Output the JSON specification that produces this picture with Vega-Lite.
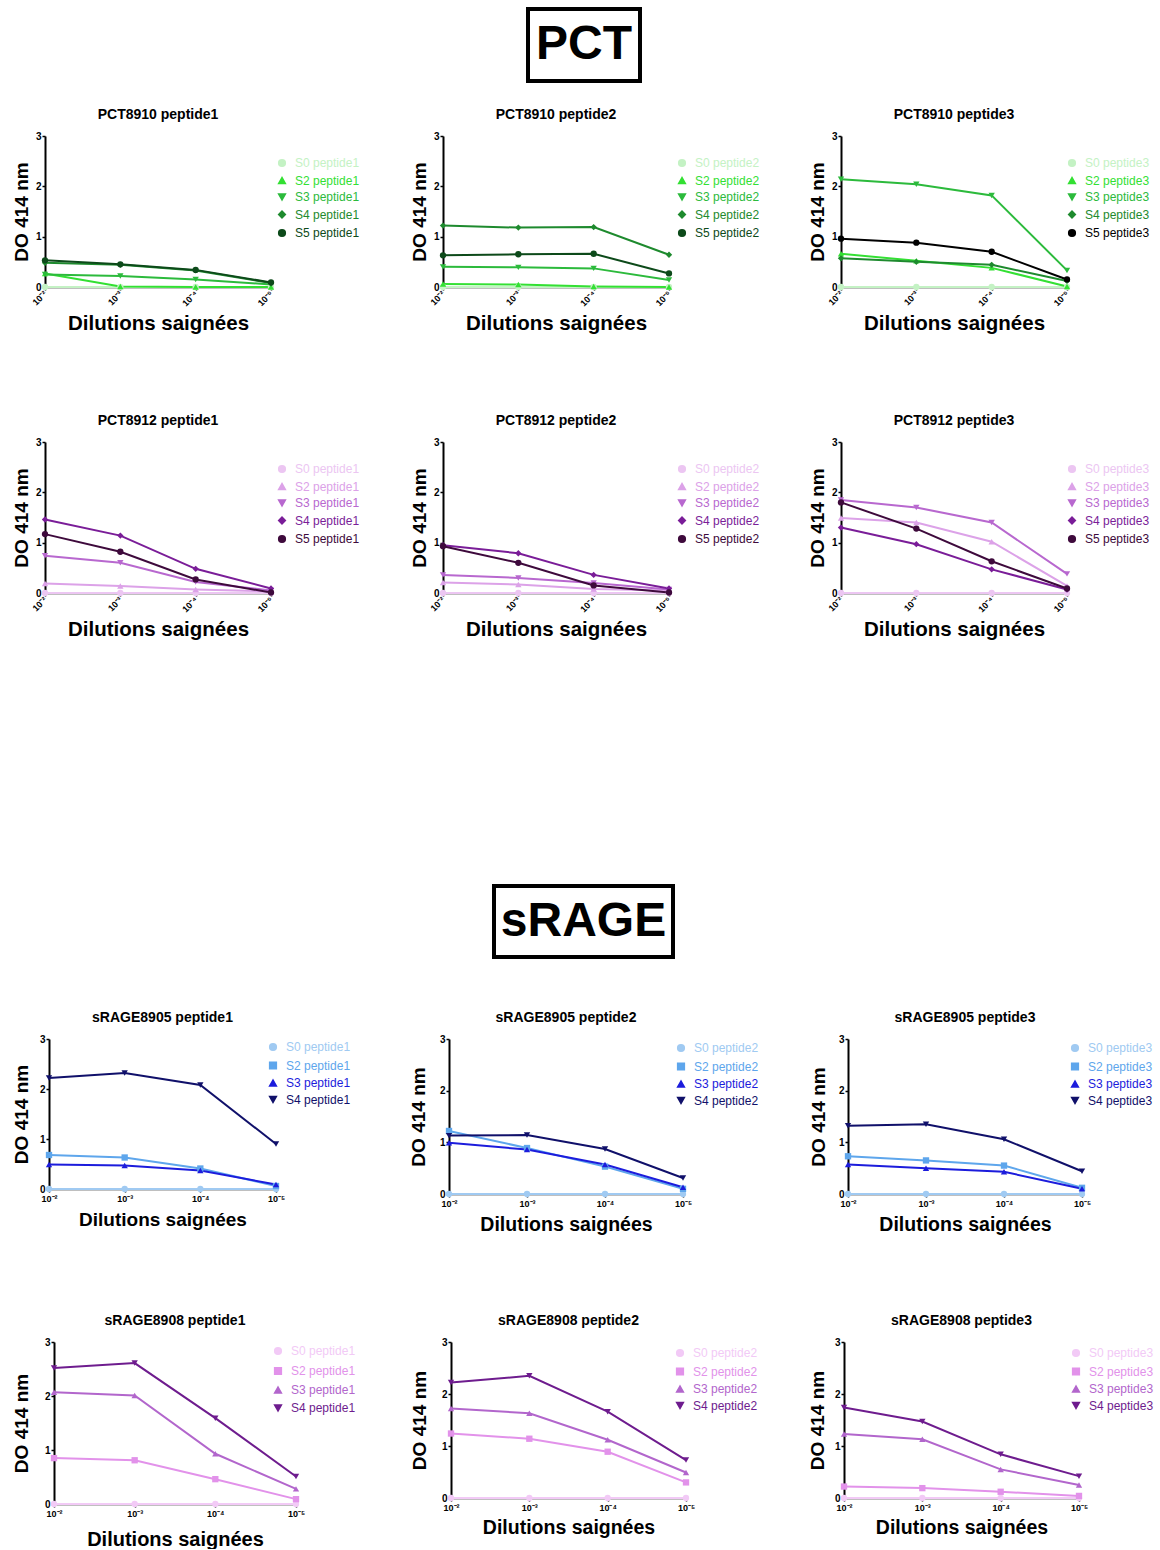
{
"$schema":"https://vega.github.io/schema/vega-lite/v6.json",
"padding":{"left":11,"top":7,"right":5,"bottom":0},
"background":"white",
"datasets":{"d":[
{"p":"PCT8910 peptide1","s":"S0 peptide1","x":"10⁻²","v":0},{"p":"PCT8910 peptide1","s":"S0 peptide1","x":"10⁻³","v":0},{"p":"PCT8910 peptide1","s":"S0 peptide1","x":"10⁻⁴","v":0},{"p":"PCT8910 peptide1","s":"S0 peptide1","x":"10⁻⁵","v":0},
{"p":"PCT8910 peptide1","s":"S2 peptide1","x":"10⁻²","v":0.27},{"p":"PCT8910 peptide1","s":"S2 peptide1","x":"10⁻³","v":0.01},{"p":"PCT8910 peptide1","s":"S2 peptide1","x":"10⁻⁴","v":0.0},{"p":"PCT8910 peptide1","s":"S2 peptide1","x":"10⁻⁵","v":0.0},
{"p":"PCT8910 peptide1","s":"S3 peptide1","x":"10⁻²","v":0.25},{"p":"PCT8910 peptide1","s":"S3 peptide1","x":"10⁻³","v":0.22},{"p":"PCT8910 peptide1","s":"S3 peptide1","x":"10⁻⁴","v":0.15},{"p":"PCT8910 peptide1","s":"S3 peptide1","x":"10⁻⁵","v":0.05},
{"p":"PCT8910 peptide1","s":"S4 peptide1","x":"10⁻²","v":0.48},{"p":"PCT8910 peptide1","s":"S4 peptide1","x":"10⁻³","v":0.44},{"p":"PCT8910 peptide1","s":"S4 peptide1","x":"10⁻⁴","v":0.33},{"p":"PCT8910 peptide1","s":"S4 peptide1","x":"10⁻⁵","v":0.08},
{"p":"PCT8910 peptide1","s":"S5 peptide1","x":"10⁻²","v":0.53},{"p":"PCT8910 peptide1","s":"S5 peptide1","x":"10⁻³","v":0.45},{"p":"PCT8910 peptide1","s":"S5 peptide1","x":"10⁻⁴","v":0.34},{"p":"PCT8910 peptide1","s":"S5 peptide1","x":"10⁻⁵","v":0.09},
{"p":"PCT8910 peptide2","s":"S0 peptide2","x":"10⁻²","v":0},{"p":"PCT8910 peptide2","s":"S0 peptide2","x":"10⁻³","v":0},{"p":"PCT8910 peptide2","s":"S0 peptide2","x":"10⁻⁴","v":0},{"p":"PCT8910 peptide2","s":"S0 peptide2","x":"10⁻⁵","v":0},
{"p":"PCT8910 peptide2","s":"S2 peptide2","x":"10⁻²","v":0.06},{"p":"PCT8910 peptide2","s":"S2 peptide2","x":"10⁻³","v":0.05},{"p":"PCT8910 peptide2","s":"S2 peptide2","x":"10⁻⁴","v":0.01},{"p":"PCT8910 peptide2","s":"S2 peptide2","x":"10⁻⁵","v":0.0},
{"p":"PCT8910 peptide2","s":"S3 peptide2","x":"10⁻²","v":0.40},{"p":"PCT8910 peptide2","s":"S3 peptide2","x":"10⁻³","v":0.39},{"p":"PCT8910 peptide2","s":"S3 peptide2","x":"10⁻⁴","v":0.37},{"p":"PCT8910 peptide2","s":"S3 peptide2","x":"10⁻⁵","v":0.14},
{"p":"PCT8910 peptide2","s":"S4 peptide2","x":"10⁻²","v":1.22},{"p":"PCT8910 peptide2","s":"S4 peptide2","x":"10⁻³","v":1.18},{"p":"PCT8910 peptide2","s":"S4 peptide2","x":"10⁻⁴","v":1.19},{"p":"PCT8910 peptide2","s":"S4 peptide2","x":"10⁻⁵","v":0.64},
{"p":"PCT8910 peptide2","s":"S5 peptide2","x":"10⁻²","v":0.63},{"p":"PCT8910 peptide2","s":"S5 peptide2","x":"10⁻³","v":0.65},{"p":"PCT8910 peptide2","s":"S5 peptide2","x":"10⁻⁴","v":0.66},{"p":"PCT8910 peptide2","s":"S5 peptide2","x":"10⁻⁵","v":0.27},
{"p":"PCT8910 peptide3","s":"S0 peptide3","x":"10⁻²","v":0},{"p":"PCT8910 peptide3","s":"S0 peptide3","x":"10⁻³","v":0},{"p":"PCT8910 peptide3","s":"S0 peptide3","x":"10⁻⁴","v":0},{"p":"PCT8910 peptide3","s":"S0 peptide3","x":"10⁻⁵","v":0},
{"p":"PCT8910 peptide3","s":"S2 peptide3","x":"10⁻²","v":0.66},{"p":"PCT8910 peptide3","s":"S2 peptide3","x":"10⁻³","v":0.52},{"p":"PCT8910 peptide3","s":"S2 peptide3","x":"10⁻⁴","v":0.38},{"p":"PCT8910 peptide3","s":"S2 peptide3","x":"10⁻⁵","v":0.01},
{"p":"PCT8910 peptide3","s":"S3 peptide3","x":"10⁻²","v":2.14},{"p":"PCT8910 peptide3","s":"S3 peptide3","x":"10⁻³","v":2.04},{"p":"PCT8910 peptide3","s":"S3 peptide3","x":"10⁻⁴","v":1.82},{"p":"PCT8910 peptide3","s":"S3 peptide3","x":"10⁻⁵","v":0.33},
{"p":"PCT8910 peptide3","s":"S4 peptide3","x":"10⁻²","v":0.57},{"p":"PCT8910 peptide3","s":"S4 peptide3","x":"10⁻³","v":0.50},{"p":"PCT8910 peptide3","s":"S4 peptide3","x":"10⁻⁴","v":0.44},{"p":"PCT8910 peptide3","s":"S4 peptide3","x":"10⁻⁵","v":0.12},
{"p":"PCT8910 peptide3","s":"S5 peptide3","x":"10⁻²","v":0.96},{"p":"PCT8910 peptide3","s":"S5 peptide3","x":"10⁻³","v":0.88},{"p":"PCT8910 peptide3","s":"S5 peptide3","x":"10⁻⁴","v":0.70},{"p":"PCT8910 peptide3","s":"S5 peptide3","x":"10⁻⁵","v":0.15},
{"p":"PCT8912 peptide1","s":"S0 peptide1","x":"10⁻²","v":0},{"p":"PCT8912 peptide1","s":"S0 peptide1","x":"10⁻³","v":0},{"p":"PCT8912 peptide1","s":"S0 peptide1","x":"10⁻⁴","v":0},{"p":"PCT8912 peptide1","s":"S0 peptide1","x":"10⁻⁵","v":0},
{"p":"PCT8912 peptide1","s":"S2 peptide1","x":"10⁻²","v":0.19},{"p":"PCT8912 peptide1","s":"S2 peptide1","x":"10⁻³","v":0.14},{"p":"PCT8912 peptide1","s":"S2 peptide1","x":"10⁻⁴","v":0.07},{"p":"PCT8912 peptide1","s":"S2 peptide1","x":"10⁻⁵","v":0.03},
{"p":"PCT8912 peptide1","s":"S3 peptide1","x":"10⁻²","v":0.74},{"p":"PCT8912 peptide1","s":"S3 peptide1","x":"10⁻³","v":0.60},{"p":"PCT8912 peptide1","s":"S3 peptide1","x":"10⁻⁴","v":0.22},{"p":"PCT8912 peptide1","s":"S3 peptide1","x":"10⁻⁵","v":0.05},
{"p":"PCT8912 peptide1","s":"S4 peptide1","x":"10⁻²","v":1.46},{"p":"PCT8912 peptide1","s":"S4 peptide1","x":"10⁻³","v":1.14},{"p":"PCT8912 peptide1","s":"S4 peptide1","x":"10⁻⁴","v":0.48},{"p":"PCT8912 peptide1","s":"S4 peptide1","x":"10⁻⁵","v":0.09},
{"p":"PCT8912 peptide1","s":"S5 peptide1","x":"10⁻²","v":1.17},{"p":"PCT8912 peptide1","s":"S5 peptide1","x":"10⁻³","v":0.82},{"p":"PCT8912 peptide1","s":"S5 peptide1","x":"10⁻⁴","v":0.27},{"p":"PCT8912 peptide1","s":"S5 peptide1","x":"10⁻⁵","v":0.01},
{"p":"PCT8912 peptide2","s":"S0 peptide2","x":"10⁻²","v":0},{"p":"PCT8912 peptide2","s":"S0 peptide2","x":"10⁻³","v":0},{"p":"PCT8912 peptide2","s":"S0 peptide2","x":"10⁻⁴","v":0},{"p":"PCT8912 peptide2","s":"S0 peptide2","x":"10⁻⁵","v":0},
{"p":"PCT8912 peptide2","s":"S2 peptide2","x":"10⁻²","v":0.21},{"p":"PCT8912 peptide2","s":"S2 peptide2","x":"10⁻³","v":0.17},{"p":"PCT8912 peptide2","s":"S2 peptide2","x":"10⁻⁴","v":0.08},{"p":"PCT8912 peptide2","s":"S2 peptide2","x":"10⁻⁵","v":0.05},
{"p":"PCT8912 peptide2","s":"S3 peptide2","x":"10⁻²","v":0.36},{"p":"PCT8912 peptide2","s":"S3 peptide2","x":"10⁻³","v":0.30},{"p":"PCT8912 peptide2","s":"S3 peptide2","x":"10⁻⁴","v":0.20},{"p":"PCT8912 peptide2","s":"S3 peptide2","x":"10⁻⁵","v":0.07},
{"p":"PCT8912 peptide2","s":"S4 peptide2","x":"10⁻²","v":0.95},{"p":"PCT8912 peptide2","s":"S4 peptide2","x":"10⁻³","v":0.79},{"p":"PCT8912 peptide2","s":"S4 peptide2","x":"10⁻⁴","v":0.36},{"p":"PCT8912 peptide2","s":"S4 peptide2","x":"10⁻⁵","v":0.09},
{"p":"PCT8912 peptide2","s":"S5 peptide2","x":"10⁻²","v":0.93},{"p":"PCT8912 peptide2","s":"S5 peptide2","x":"10⁻³","v":0.60},{"p":"PCT8912 peptide2","s":"S5 peptide2","x":"10⁻⁴","v":0.15},{"p":"PCT8912 peptide2","s":"S5 peptide2","x":"10⁻⁵","v":0.01},
{"p":"PCT8912 peptide3","s":"S0 peptide3","x":"10⁻²","v":0},{"p":"PCT8912 peptide3","s":"S0 peptide3","x":"10⁻³","v":0},{"p":"PCT8912 peptide3","s":"S0 peptide3","x":"10⁻⁴","v":0},{"p":"PCT8912 peptide3","s":"S0 peptide3","x":"10⁻⁵","v":0},
{"p":"PCT8912 peptide3","s":"S2 peptide3","x":"10⁻²","v":1.49},{"p":"PCT8912 peptide3","s":"S2 peptide3","x":"10⁻³","v":1.40},{"p":"PCT8912 peptide3","s":"S2 peptide3","x":"10⁻⁴","v":1.02},{"p":"PCT8912 peptide3","s":"S2 peptide3","x":"10⁻⁵","v":0.14},
{"p":"PCT8912 peptide3","s":"S3 peptide3","x":"10⁻²","v":1.85},{"p":"PCT8912 peptide3","s":"S3 peptide3","x":"10⁻³","v":1.70},{"p":"PCT8912 peptide3","s":"S3 peptide3","x":"10⁻⁴","v":1.40},{"p":"PCT8912 peptide3","s":"S3 peptide3","x":"10⁻⁵","v":0.38},
{"p":"PCT8912 peptide3","s":"S4 peptide3","x":"10⁻²","v":1.30},{"p":"PCT8912 peptide3","s":"S4 peptide3","x":"10⁻³","v":0.97},{"p":"PCT8912 peptide3","s":"S4 peptide3","x":"10⁻⁴","v":0.47},{"p":"PCT8912 peptide3","s":"S4 peptide3","x":"10⁻⁵","v":0.07},
{"p":"PCT8912 peptide3","s":"S5 peptide3","x":"10⁻²","v":1.80},{"p":"PCT8912 peptide3","s":"S5 peptide3","x":"10⁻³","v":1.28},{"p":"PCT8912 peptide3","s":"S5 peptide3","x":"10⁻⁴","v":0.63},{"p":"PCT8912 peptide3","s":"S5 peptide3","x":"10⁻⁵","v":0.09},
{"p":"sRAGE8905 peptide1","s":"S0 peptide1","x":"10⁻²","v":0},{"p":"sRAGE8905 peptide1","s":"S0 peptide1","x":"10⁻³","v":0},{"p":"sRAGE8905 peptide1","s":"S0 peptide1","x":"10⁻⁴","v":0},{"p":"sRAGE8905 peptide1","s":"S0 peptide1","x":"10⁻⁵","v":0},
{"p":"sRAGE8905 peptide1","s":"S2 peptide1","x":"10⁻²","v":0.68},{"p":"sRAGE8905 peptide1","s":"S2 peptide1","x":"10⁻³","v":0.63},{"p":"sRAGE8905 peptide1","s":"S2 peptide1","x":"10⁻⁴","v":0.41},{"p":"sRAGE8905 peptide1","s":"S2 peptide1","x":"10⁻⁵","v":0.06},
{"p":"sRAGE8905 peptide1","s":"S3 peptide1","x":"10⁻²","v":0.49},{"p":"sRAGE8905 peptide1","s":"S3 peptide1","x":"10⁻³","v":0.47},{"p":"sRAGE8905 peptide1","s":"S3 peptide1","x":"10⁻⁴","v":0.37},{"p":"sRAGE8905 peptide1","s":"S3 peptide1","x":"10⁻⁵","v":0.09},
{"p":"sRAGE8905 peptide1","s":"S4 peptide1","x":"10⁻²","v":2.22},{"p":"sRAGE8905 peptide1","s":"S4 peptide1","x":"10⁻³","v":2.32},{"p":"sRAGE8905 peptide1","s":"S4 peptide1","x":"10⁻⁴","v":2.08},{"p":"sRAGE8905 peptide1","s":"S4 peptide1","x":"10⁻⁵","v":0.90},
{"p":"sRAGE8905 peptide2","s":"S0 peptide2","x":"10⁻²","v":0},{"p":"sRAGE8905 peptide2","s":"S0 peptide2","x":"10⁻³","v":0},{"p":"sRAGE8905 peptide2","s":"S0 peptide2","x":"10⁻⁴","v":0},{"p":"sRAGE8905 peptide2","s":"S0 peptide2","x":"10⁻⁵","v":0},
{"p":"sRAGE8905 peptide2","s":"S2 peptide2","x":"10⁻²","v":1.22},{"p":"sRAGE8905 peptide2","s":"S2 peptide2","x":"10⁻³","v":0.89},{"p":"sRAGE8905 peptide2","s":"S2 peptide2","x":"10⁻⁴","v":0.53},{"p":"sRAGE8905 peptide2","s":"S2 peptide2","x":"10⁻⁵","v":0.10},
{"p":"sRAGE8905 peptide2","s":"S3 peptide2","x":"10⁻²","v":0.99},{"p":"sRAGE8905 peptide2","s":"S3 peptide2","x":"10⁻³","v":0.86},{"p":"sRAGE8905 peptide2","s":"S3 peptide2","x":"10⁻⁴","v":0.57},{"p":"sRAGE8905 peptide2","s":"S3 peptide2","x":"10⁻⁵","v":0.13},
{"p":"sRAGE8905 peptide2","s":"S4 peptide2","x":"10⁻²","v":1.13},{"p":"sRAGE8905 peptide2","s":"S4 peptide2","x":"10⁻³","v":1.14},{"p":"sRAGE8905 peptide2","s":"S4 peptide2","x":"10⁻⁴","v":0.87},{"p":"sRAGE8905 peptide2","s":"S4 peptide2","x":"10⁻⁵","v":0.31},
{"p":"sRAGE8905 peptide3","s":"S0 peptide3","x":"10⁻²","v":0},{"p":"sRAGE8905 peptide3","s":"S0 peptide3","x":"10⁻³","v":0},{"p":"sRAGE8905 peptide3","s":"S0 peptide3","x":"10⁻⁴","v":0},{"p":"sRAGE8905 peptide3","s":"S0 peptide3","x":"10⁻⁵","v":0},
{"p":"sRAGE8905 peptide3","s":"S2 peptide3","x":"10⁻²","v":0.73},{"p":"sRAGE8905 peptide3","s":"S2 peptide3","x":"10⁻³","v":0.65},{"p":"sRAGE8905 peptide3","s":"S2 peptide3","x":"10⁻⁴","v":0.55},{"p":"sRAGE8905 peptide3","s":"S2 peptide3","x":"10⁻⁵","v":0.12},
{"p":"sRAGE8905 peptide3","s":"S3 peptide3","x":"10⁻²","v":0.57},{"p":"sRAGE8905 peptide3","s":"S3 peptide3","x":"10⁻³","v":0.50},{"p":"sRAGE8905 peptide3","s":"S3 peptide3","x":"10⁻⁴","v":0.43},{"p":"sRAGE8905 peptide3","s":"S3 peptide3","x":"10⁻⁵","v":0.10},
{"p":"sRAGE8905 peptide3","s":"S4 peptide3","x":"10⁻²","v":1.32},{"p":"sRAGE8905 peptide3","s":"S4 peptide3","x":"10⁻³","v":1.35},{"p":"sRAGE8905 peptide3","s":"S4 peptide3","x":"10⁻⁴","v":1.06},{"p":"sRAGE8905 peptide3","s":"S4 peptide3","x":"10⁻⁵","v":0.44},
{"p":"sRAGE8908 peptide1","s":"S0 peptide1","x":"10⁻²","v":0},{"p":"sRAGE8908 peptide1","s":"S0 peptide1","x":"10⁻³","v":0},{"p":"sRAGE8908 peptide1","s":"S0 peptide1","x":"10⁻⁴","v":0},{"p":"sRAGE8908 peptide1","s":"S0 peptide1","x":"10⁻⁵","v":0},
{"p":"sRAGE8908 peptide1","s":"S2 peptide1","x":"10⁻²","v":0.85},{"p":"sRAGE8908 peptide1","s":"S2 peptide1","x":"10⁻³","v":0.81},{"p":"sRAGE8908 peptide1","s":"S2 peptide1","x":"10⁻⁴","v":0.46},{"p":"sRAGE8908 peptide1","s":"S2 peptide1","x":"10⁻⁵","v":0.09},
{"p":"sRAGE8908 peptide1","s":"S3 peptide1","x":"10⁻²","v":2.07},{"p":"sRAGE8908 peptide1","s":"S3 peptide1","x":"10⁻³","v":2.01},{"p":"sRAGE8908 peptide1","s":"S3 peptide1","x":"10⁻⁴","v":0.93},{"p":"sRAGE8908 peptide1","s":"S3 peptide1","x":"10⁻⁵","v":0.28},
{"p":"sRAGE8908 peptide1","s":"S4 peptide1","x":"10⁻²","v":2.52},{"p":"sRAGE8908 peptide1","s":"S4 peptide1","x":"10⁻³","v":2.61},{"p":"sRAGE8908 peptide1","s":"S4 peptide1","x":"10⁻⁴","v":1.59},{"p":"sRAGE8908 peptide1","s":"S4 peptide1","x":"10⁻⁵","v":0.51},
{"p":"sRAGE8908 peptide2","s":"S0 peptide2","x":"10⁻²","v":0},{"p":"sRAGE8908 peptide2","s":"S0 peptide2","x":"10⁻³","v":0},{"p":"sRAGE8908 peptide2","s":"S0 peptide2","x":"10⁻⁴","v":0},{"p":"sRAGE8908 peptide2","s":"S0 peptide2","x":"10⁻⁵","v":0},
{"p":"sRAGE8908 peptide2","s":"S2 peptide2","x":"10⁻²","v":1.24},{"p":"sRAGE8908 peptide2","s":"S2 peptide2","x":"10⁻³","v":1.14},{"p":"sRAGE8908 peptide2","s":"S2 peptide2","x":"10⁻⁴","v":0.89},{"p":"sRAGE8908 peptide2","s":"S2 peptide2","x":"10⁻⁵","v":0.30},
{"p":"sRAGE8908 peptide2","s":"S3 peptide2","x":"10⁻²","v":1.72},{"p":"sRAGE8908 peptide2","s":"S3 peptide2","x":"10⁻³","v":1.63},{"p":"sRAGE8908 peptide2","s":"S3 peptide2","x":"10⁻⁴","v":1.12},{"p":"sRAGE8908 peptide2","s":"S3 peptide2","x":"10⁻⁵","v":0.49},
{"p":"sRAGE8908 peptide2","s":"S4 peptide2","x":"10⁻²","v":2.22},{"p":"sRAGE8908 peptide2","s":"S4 peptide2","x":"10⁻³","v":2.35},{"p":"sRAGE8908 peptide2","s":"S4 peptide2","x":"10⁻⁴","v":1.66},{"p":"sRAGE8908 peptide2","s":"S4 peptide2","x":"10⁻⁵","v":0.73},
{"p":"sRAGE8908 peptide3","s":"S0 peptide3","x":"10⁻²","v":0},{"p":"sRAGE8908 peptide3","s":"S0 peptide3","x":"10⁻³","v":0},{"p":"sRAGE8908 peptide3","s":"S0 peptide3","x":"10⁻⁴","v":0},{"p":"sRAGE8908 peptide3","s":"S0 peptide3","x":"10⁻⁵","v":0},
{"p":"sRAGE8908 peptide3","s":"S2 peptide3","x":"10⁻²","v":0.22},{"p":"sRAGE8908 peptide3","s":"S2 peptide3","x":"10⁻³","v":0.19},{"p":"sRAGE8908 peptide3","s":"S2 peptide3","x":"10⁻⁴","v":0.12},{"p":"sRAGE8908 peptide3","s":"S2 peptide3","x":"10⁻⁵","v":0.04},
{"p":"sRAGE8908 peptide3","s":"S3 peptide3","x":"10⁻²","v":1.23},{"p":"sRAGE8908 peptide3","s":"S3 peptide3","x":"10⁻³","v":1.13},{"p":"sRAGE8908 peptide3","s":"S3 peptide3","x":"10⁻⁴","v":0.55},{"p":"sRAGE8908 peptide3","s":"S3 peptide3","x":"10⁻⁵","v":0.25},
{"p":"sRAGE8908 peptide3","s":"S4 peptide3","x":"10⁻²","v":1.74},{"p":"sRAGE8908 peptide3","s":"S4 peptide3","x":"10⁻³","v":1.47},{"p":"sRAGE8908 peptide3","s":"S4 peptide3","x":"10⁻⁴","v":0.84},{"p":"sRAGE8908 peptide3","s":"S4 peptide3","x":"10⁻⁵","v":0.42}
]},
"data":{"name":"d"},
"spacing":243,
"resolve":{"scale":{"color":"independent","shape":"independent"},"legend":{"color":"independent","shape":"independent"}},
"vconcat":[
{"spacing":25,
"resolve":{"scale":{"color":"independent","shape":"independent"},"legend":{"color":"independent","shape":"independent"}},
"vconcat":[
{"spacing":0,"hconcat":[
{"width":515,"height":72,"data":{"values":[]},"mark":{"type":"point","opacity":0},"encoding":{}},
{"width":112,"height":72,"data":{"values":[{"t":"PCT"}]},"view":{"stroke":"black","strokeWidth":4},"mark":{"type":"text","fontSize":48,"fontWeight":"bold","font":"Liberation Sans","color":"black"},"encoding":{"text":{"field":"t"}}}
]},
{"spacing":79,
"resolve":{"scale":{"color":"independent","shape":"independent"},"legend":{"color":"independent","shape":"independent"}},
"vconcat":[
{"spacing":50,
"resolve":{"scale":{"color":"independent","shape":"independent"},"legend":{"color":"independent","shape":"independent"}},
"hconcat":[
{"spacing":0,
"resolve":{"scale":{"color":"independent","shape":"independent"},"legend":{"color":"independent","shape":"independent"}},
"hconcat":[
{"width":1,"height":1,"data":{"values":[]},"mark":{"type":"point","opacity":0},"encoding":{}},
{"title":"PCT8910 peptide1","width":226,"height":151,"transform":[{"filter":"datum.p==='PCT8910 peptide1'"}],
"encoding":{"x":{"field":"x","type":"ordinal","sort":["10⁻²","10⁻³","10⁻⁴","10⁻⁵"],"scale":{"type":"point","padding":0},"axis":{"title":"Dilutions saignées","labelAngle":-45,"labelAlign":"right","labelBaseline":"middle","labelFontSize":9,"titleFontSize":20.5,"titlePadding":6}},
"y":{"field":"v","type":"quantitative","scale":{"domain":[0,3]},"axis":{"title":"DO 414 nm","values":[0,1,2,3]}},
"color":{"field":"s","type":"nominal","scale":{"domain":["S0 peptide1","S2 peptide1","S3 peptide1","S4 peptide1","S5 peptide1"],"range":["#c4f2c4","#33e033","#2cba3c","#1e8a2e","#0d4a1a"]},"legend":{"title":null,"orient":"none","legendX":231,"legendY":21,"encode":{"labels":{"update":{"fill":{"signal":"['#c4f2c4','#33e033','#2cba3c','#1e8a2e','#0d4a1a'][datum.index]"}}}}}}},
"layer":[{"mark":{"type":"line","strokeWidth":2}},{"mark":{"type":"point","filled":true,"size":40,"opacity":1},"encoding":{"shape":{"field":"s","type":"nominal","scale":{"domain":["S0 peptide1","S2 peptide1","S3 peptide1","S4 peptide1","S5 peptide1"],"range":["circle","triangle-up","triangle-down","diamond","circle"]}}}}]}
]},
{"spacing":48,
"resolve":{"scale":{"color":"independent","shape":"independent"},"legend":{"color":"independent","shape":"independent"}},
"hconcat":[
{"title":"PCT8910 peptide2","width":226,"height":151,"transform":[{"filter":"datum.p==='PCT8910 peptide2'"}],
"encoding":{"x":{"field":"x","type":"ordinal","sort":["10⁻²","10⁻³","10⁻⁴","10⁻⁵"],"scale":{"type":"point","padding":0},"axis":{"title":"Dilutions saignées","labelAngle":-45,"labelAlign":"right","labelBaseline":"middle","labelFontSize":9,"titleFontSize":20.5,"titlePadding":6}},
"y":{"field":"v","type":"quantitative","scale":{"domain":[0,3]},"axis":{"title":"DO 414 nm","values":[0,1,2,3]}},
"color":{"field":"s","type":"nominal","scale":{"domain":["S0 peptide2","S2 peptide2","S3 peptide2","S4 peptide2","S5 peptide2"],"range":["#c4f2c4","#33e033","#2cba3c","#1e8a2e","#0d4a1a"]},"legend":{"title":null,"orient":"none","legendX":233,"legendY":21,"encode":{"labels":{"update":{"fill":{"signal":"['#c4f2c4','#33e033','#2cba3c','#1e8a2e','#0d4a1a'][datum.index]"}}}}}}},
"layer":[{"mark":{"type":"line","strokeWidth":2}},{"mark":{"type":"point","filled":true,"size":40,"opacity":1},"encoding":{"shape":{"field":"s","type":"nominal","scale":{"domain":["S0 peptide2","S2 peptide2","S3 peptide2","S4 peptide2","S5 peptide2"],"range":["circle","triangle-up","triangle-down","diamond","circle"]}}}}]},
{"title":"PCT8910 peptide3","width":226,"height":151,"transform":[{"filter":"datum.p==='PCT8910 peptide3'"}],
"encoding":{"x":{"field":"x","type":"ordinal","sort":["10⁻²","10⁻³","10⁻⁴","10⁻⁵"],"scale":{"type":"point","padding":0},"axis":{"title":"Dilutions saignées","labelAngle":-45,"labelAlign":"right","labelBaseline":"middle","labelFontSize":9,"titleFontSize":20.5,"titlePadding":6}},
"y":{"field":"v","type":"quantitative","scale":{"domain":[0,3]},"axis":{"title":"DO 414 nm","values":[0,1,2,3]}},
"color":{"field":"s","type":"nominal","scale":{"domain":["S0 peptide3","S2 peptide3","S3 peptide3","S4 peptide3","S5 peptide3"],"range":["#c4f2c4","#33e033","#2cba3c","#1e8a2e","#000000"]},"legend":{"title":null,"orient":"none","legendX":225,"legendY":21,"encode":{"labels":{"update":{"fill":{"signal":"['#c4f2c4','#33e033','#2cba3c','#1e8a2e','#000000'][datum.index]"}}}}}}},
"layer":[{"mark":{"type":"line","strokeWidth":2}},{"mark":{"type":"point","filled":true,"size":40,"opacity":1},"encoding":{"shape":{"field":"s","type":"nominal","scale":{"domain":["S0 peptide3","S2 peptide3","S3 peptide3","S4 peptide3","S5 peptide3"],"range":["circle","triangle-up","triangle-down","diamond","circle"]}}}}]}
]}
]},
{"spacing":50,
"resolve":{"scale":{"color":"independent","shape":"independent"},"legend":{"color":"independent","shape":"independent"}},
"hconcat":[
{"spacing":0,
"resolve":{"scale":{"color":"independent","shape":"independent"},"legend":{"color":"independent","shape":"independent"}},
"hconcat":[
{"width":1,"height":1,"data":{"values":[]},"mark":{"type":"point","opacity":0},"encoding":{}},
{"title":"PCT8912 peptide1","width":226,"height":151,"transform":[{"filter":"datum.p==='PCT8912 peptide1'"}],
"encoding":{"x":{"field":"x","type":"ordinal","sort":["10⁻²","10⁻³","10⁻⁴","10⁻⁵"],"scale":{"type":"point","padding":0},"axis":{"title":"Dilutions saignées","labelAngle":-45,"labelAlign":"right","labelBaseline":"middle","labelFontSize":9,"titleFontSize":20.5,"titlePadding":6}},
"y":{"field":"v","type":"quantitative","scale":{"domain":[0,3]},"axis":{"title":"DO 414 nm","values":[0,1,2,3]}},
"color":{"field":"s","type":"nominal","scale":{"domain":["S0 peptide1","S2 peptide1","S3 peptide1","S4 peptide1","S5 peptide1"],"range":["#ecc6f2","#dca2e8","#b868cf","#7a1d98","#3e0a3c"]},"legend":{"title":null,"orient":"none","legendX":231,"legendY":21,"encode":{"labels":{"update":{"fill":{"signal":"['#ecc6f2','#dca2e8','#b868cf','#7a1d98','#3e0a3c'][datum.index]"}}}}}}},
"layer":[{"mark":{"type":"line","strokeWidth":2}},{"mark":{"type":"point","filled":true,"size":40,"opacity":1},"encoding":{"shape":{"field":"s","type":"nominal","scale":{"domain":["S0 peptide1","S2 peptide1","S3 peptide1","S4 peptide1","S5 peptide1"],"range":["circle","triangle-up","triangle-down","diamond","circle"]}}}}]}
]},
{"spacing":48,
"resolve":{"scale":{"color":"independent","shape":"independent"},"legend":{"color":"independent","shape":"independent"}},
"hconcat":[
{"title":"PCT8912 peptide2","width":226,"height":151,"transform":[{"filter":"datum.p==='PCT8912 peptide2'"}],
"encoding":{"x":{"field":"x","type":"ordinal","sort":["10⁻²","10⁻³","10⁻⁴","10⁻⁵"],"scale":{"type":"point","padding":0},"axis":{"title":"Dilutions saignées","labelAngle":-45,"labelAlign":"right","labelBaseline":"middle","labelFontSize":9,"titleFontSize":20.5,"titlePadding":6}},
"y":{"field":"v","type":"quantitative","scale":{"domain":[0,3]},"axis":{"title":"DO 414 nm","values":[0,1,2,3]}},
"color":{"field":"s","type":"nominal","scale":{"domain":["S0 peptide2","S2 peptide2","S3 peptide2","S4 peptide2","S5 peptide2"],"range":["#ecc6f2","#dca2e8","#b868cf","#7a1d98","#3e0a3c"]},"legend":{"title":null,"orient":"none","legendX":233,"legendY":21,"encode":{"labels":{"update":{"fill":{"signal":"['#ecc6f2','#dca2e8','#b868cf','#7a1d98','#3e0a3c'][datum.index]"}}}}}}},
"layer":[{"mark":{"type":"line","strokeWidth":2}},{"mark":{"type":"point","filled":true,"size":40,"opacity":1},"encoding":{"shape":{"field":"s","type":"nominal","scale":{"domain":["S0 peptide2","S2 peptide2","S3 peptide2","S4 peptide2","S5 peptide2"],"range":["circle","triangle-up","triangle-down","diamond","circle"]}}}}]},
{"title":"PCT8912 peptide3","width":226,"height":151,"transform":[{"filter":"datum.p==='PCT8912 peptide3'"}],
"encoding":{"x":{"field":"x","type":"ordinal","sort":["10⁻²","10⁻³","10⁻⁴","10⁻⁵"],"scale":{"type":"point","padding":0},"axis":{"title":"Dilutions saignées","labelAngle":-45,"labelAlign":"right","labelBaseline":"middle","labelFontSize":9,"titleFontSize":20.5,"titlePadding":6}},
"y":{"field":"v","type":"quantitative","scale":{"domain":[0,3]},"axis":{"title":"DO 414 nm","values":[0,1,2,3]}},
"color":{"field":"s","type":"nominal","scale":{"domain":["S0 peptide3","S2 peptide3","S3 peptide3","S4 peptide3","S5 peptide3"],"range":["#ecc6f2","#dca2e8","#b868cf","#7a1d98","#3e0a3c"]},"legend":{"title":null,"orient":"none","legendX":225,"legendY":21,"encode":{"labels":{"update":{"fill":{"signal":"['#ecc6f2','#dca2e8','#b868cf','#7a1d98','#3e0a3c'][datum.index]"}}}}}}},
"layer":[{"mark":{"type":"line","strokeWidth":2}},{"mark":{"type":"point","filled":true,"size":40,"opacity":1},"encoding":{"shape":{"field":"s","type":"nominal","scale":{"domain":["S0 peptide3","S2 peptide3","S3 peptide3","S4 peptide3","S5 peptide3"],"range":["circle","triangle-up","triangle-down","diamond","circle"]}}}}]}
]}
]}
]}
]},
{"spacing":52,
"resolve":{"scale":{"color":"independent","shape":"independent"},"legend":{"color":"independent","shape":"independent"}},
"vconcat":[
{"spacing":0,"hconcat":[
{"width":481,"height":71,"data":{"values":[]},"mark":{"type":"point","opacity":0},"encoding":{}},
{"width":179,"height":71,"data":{"values":[{"t":"sRAGE"}]},"view":{"stroke":"black","strokeWidth":4},"mark":{"type":"text","fontSize":48,"fontWeight":"bold","font":"Liberation Sans","color":"black"},"encoding":{"text":{"field":"t"}}}
]},
{"spacing":80,
"resolve":{"scale":{"color":"independent","shape":"independent"},"legend":{"color":"independent","shape":"independent"}},
"vconcat":[
{"spacing":58,
"resolve":{"scale":{"color":"independent","shape":"independent"},"legend":{"color":"independent","shape":"independent"}},
"hconcat":[
{"spacing":0,
"resolve":{"scale":{"color":"independent","shape":"independent"},"legend":{"color":"independent","shape":"independent"}},
"hconcat":[
{"width":1,"height":1,"data":{"values":[]},"mark":{"type":"point","opacity":0},"encoding":{}},
{"title":"sRAGE8905 peptide1","width":227,"height":150,"transform":[{"filter":"datum.p==='sRAGE8905 peptide1'"}],
"encoding":{"x":{"field":"x","type":"ordinal","sort":["10⁻²","10⁻³","10⁻⁴","10⁻⁵"],"scale":{"type":"point","padding":0},"axis":{"title":"Dilutions saignées","labelAngle":0,"labelFontSize":9,"titleFontSize":19,"titlePadding":7}},
"y":{"field":"v","type":"quantitative","scale":{"domain":[0,3]},"axis":{"title":"DO 414 nm","values":[0,1,2,3],"titlePadding":8}},
"color":{"field":"s","type":"nominal","scale":{"domain":["S0 peptide1","S2 peptide1","S3 peptide1","S4 peptide1"],"range":["#a0caf2","#5ea6ec","#1c1cdc","#10106a"]},"legend":{"title":null,"orient":"none","legendX":218,"legendY":2,"encode":{"labels":{"update":{"fill":{"signal":"['#a0caf2','#5ea6ec','#1c1cdc','#10106a'][datum.index]"}}}}}}},
"layer":[{"mark":{"type":"line","strokeWidth":2}},{"mark":{"type":"point","filled":true,"size":40,"opacity":1},"encoding":{"shape":{"field":"s","type":"nominal","scale":{"domain":["S0 peptide1","S2 peptide1","S3 peptide1","S4 peptide1"],"range":["circle","square","triangle-up","triangle-down"]}}}}]}
]},
{"spacing":50,
"resolve":{"scale":{"color":"independent","shape":"independent"},"legend":{"color":"independent","shape":"independent"}},
"hconcat":[
{"title":"sRAGE8905 peptide2","width":234,"height":155,"transform":[{"filter":"datum.p==='sRAGE8905 peptide2'"}],
"encoding":{"x":{"field":"x","type":"ordinal","sort":["10⁻²","10⁻³","10⁻⁴","10⁻⁵"],"scale":{"type":"point","padding":0},"axis":{"title":"Dilutions saignées","labelAngle":0,"labelFontSize":9,"titleFontSize":19.5,"titlePadding":7}},
"y":{"field":"v","type":"quantitative","scale":{"domain":[0,3]},"axis":{"title":"DO 414 nm","values":[0,1,2,3],"titlePadding":11}},
"color":{"field":"s","type":"nominal","scale":{"domain":["S0 peptide2","S2 peptide2","S3 peptide2","S4 peptide2"],"range":["#a0caf2","#5ea6ec","#1c1cdc","#10106a"]},"legend":{"title":null,"orient":"none","legendX":226,"legendY":3,"encode":{"labels":{"update":{"fill":{"signal":"['#a0caf2','#5ea6ec','#1c1cdc','#10106a'][datum.index]"}}}}}}},
"layer":[{"mark":{"type":"line","strokeWidth":2}},{"mark":{"type":"point","filled":true,"size":40,"opacity":1},"encoding":{"shape":{"field":"s","type":"nominal","scale":{"domain":["S0 peptide2","S2 peptide2","S3 peptide2","S4 peptide2"],"range":["circle","square","triangle-up","triangle-down"]}}}}]},
{"title":"sRAGE8905 peptide3","width":234,"height":155,"transform":[{"filter":"datum.p==='sRAGE8905 peptide3'"}],
"encoding":{"x":{"field":"x","type":"ordinal","sort":["10⁻²","10⁻³","10⁻⁴","10⁻⁵"],"scale":{"type":"point","padding":0},"axis":{"title":"Dilutions saignées","labelAngle":0,"labelFontSize":9,"titleFontSize":19.5,"titlePadding":7}},
"y":{"field":"v","type":"quantitative","scale":{"domain":[0,3]},"axis":{"title":"DO 414 nm","values":[0,1,2,3],"titlePadding":10}},
"color":{"field":"s","type":"nominal","scale":{"domain":["S0 peptide3","S2 peptide3","S3 peptide3","S4 peptide3"],"range":["#a0caf2","#5ea6ec","#1c1cdc","#10106a"]},"legend":{"title":null,"orient":"none","legendX":221,"legendY":3,"encode":{"labels":{"update":{"fill":{"signal":"['#a0caf2','#5ea6ec','#1c1cdc','#10106a'][datum.index]"}}}}}}},
"layer":[{"mark":{"type":"line","strokeWidth":2}},{"mark":{"type":"point","filled":true,"size":40,"opacity":1},"encoding":{"shape":{"field":"s","type":"nominal","scale":{"domain":["S0 peptide3","S2 peptide3","S3 peptide3","S4 peptide3"],"range":["circle","square","triangle-up","triangle-down"]}}}}]}
]}
]},
{"spacing":54,
"resolve":{"scale":{"color":"independent","shape":"independent"},"legend":{"color":"independent","shape":"independent"}},
"hconcat":[
{"spacing":0,
"resolve":{"scale":{"color":"independent","shape":"independent"},"legend":{"color":"independent","shape":"independent"}},
"hconcat":[
{"width":1,"height":1,"data":{"values":[]},"mark":{"type":"point","opacity":0},"encoding":{}},
{"title":"sRAGE8908 peptide1","width":242,"height":162,"transform":[{"filter":"datum.p==='sRAGE8908 peptide1'"}],
"encoding":{"x":{"field":"x","type":"ordinal","sort":["10⁻²","10⁻³","10⁻⁴","10⁻⁵"],"scale":{"type":"point","padding":0},"axis":{"title":"Dilutions saignées","labelAngle":0,"labelFontSize":9,"titleFontSize":20,"titlePadding":11}},
"y":{"field":"v","type":"quantitative","scale":{"domain":[0,3]},"axis":{"title":"DO 414 nm","values":[0,1,2,3],"titlePadding":13}},
"color":{"field":"s","type":"nominal","scale":{"domain":["S0 peptide1","S2 peptide1","S3 peptide1","S4 peptide1"],"range":["#f2caf6","#e292ea","#b266cc","#6e1c8e"]},"legend":{"title":null,"orient":"none","legendX":218,"legendY":3,"rowPadding":6,"encode":{"labels":{"update":{"fill":{"signal":"['#f2caf6','#e292ea','#b266cc','#6e1c8e'][datum.index]"}}}}}}},
"layer":[{"mark":{"type":"line","strokeWidth":2}},{"mark":{"type":"point","filled":true,"size":40,"opacity":1},"encoding":{"shape":{"field":"s","type":"nominal","scale":{"domain":["S0 peptide1","S2 peptide1","S3 peptide1","S4 peptide1"],"range":["circle","square","triangle-up","triangle-down"]}}}}]}
]},
{"spacing":50,
"resolve":{"scale":{"color":"independent","shape":"independent"},"legend":{"color":"independent","shape":"independent"}},
"hconcat":[
{"title":"sRAGE8908 peptide2","width":235,"height":156,"transform":[{"filter":"datum.p==='sRAGE8908 peptide2'"}],
"encoding":{"x":{"field":"x","type":"ordinal","sort":["10⁻²","10⁻³","10⁻⁴","10⁻⁵"],"scale":{"type":"point","padding":0},"axis":{"title":"Dilutions saignées","labelAngle":0,"labelFontSize":9,"titleFontSize":19.5,"titlePadding":6}},
"y":{"field":"v","type":"quantitative","scale":{"domain":[0,3]},"axis":{"title":"DO 414 nm","values":[0,1,2,3],"titlePadding":12}},
"color":{"field":"s","type":"nominal","scale":{"domain":["S0 peptide2","S2 peptide2","S3 peptide2","S4 peptide2"],"range":["#f2caf6","#e292ea","#b266cc","#6e1c8e"]},"legend":{"title":null,"orient":"none","legendX":223,"legendY":5,"encode":{"labels":{"update":{"fill":{"signal":"['#f2caf6','#e292ea','#b266cc','#6e1c8e'][datum.index]"}}}}}}},
"layer":[{"mark":{"type":"line","strokeWidth":2}},{"mark":{"type":"point","filled":true,"size":40,"opacity":1},"encoding":{"shape":{"field":"s","type":"nominal","scale":{"domain":["S0 peptide2","S2 peptide2","S3 peptide2","S4 peptide2"],"range":["circle","square","triangle-up","triangle-down"]}}}}]},
{"title":"sRAGE8908 peptide3","width":235,"height":156,"transform":[{"filter":"datum.p==='sRAGE8908 peptide3'"}],
"encoding":{"x":{"field":"x","type":"ordinal","sort":["10⁻²","10⁻³","10⁻⁴","10⁻⁵"],"scale":{"type":"point","padding":0},"axis":{"title":"Dilutions saignées","labelAngle":0,"labelFontSize":9,"titleFontSize":19.5,"titlePadding":6}},
"y":{"field":"v","type":"quantitative","scale":{"domain":[0,3]},"axis":{"title":"DO 414 nm","values":[0,1,2,3],"titlePadding":7}},
"color":{"field":"s","type":"nominal","scale":{"domain":["S0 peptide3","S2 peptide3","S3 peptide3","S4 peptide3"],"range":["#f2caf6","#e292ea","#b266cc","#6e1c8e"]},"legend":{"title":null,"orient":"none","legendX":226,"legendY":5,"encode":{"labels":{"update":{"fill":{"signal":"['#f2caf6','#e292ea','#b266cc','#6e1c8e'][datum.index]"}}}}}}},
"layer":[{"mark":{"type":"line","strokeWidth":2}},{"mark":{"type":"point","filled":true,"size":40,"opacity":1},"encoding":{"shape":{"field":"s","type":"nominal","scale":{"domain":["S0 peptide3","S2 peptide3","S3 peptide3","S4 peptide3"],"range":["circle","square","triangle-up","triangle-down"]}}}}]}
]}
]}
]}
]}
],
"config":{
"view":{"stroke":null},
"font":"Liberation Sans",
"axis":{"domainColor":"#000","domainWidth":2,"tickColor":"#000","tickWidth":1.5,"tickSize":3,"labelColor":"#000","labelFontWeight":"bold","titleColor":"#000","titleFontWeight":"bold","grid":false,"labelFont":"Liberation Sans","titleFont":"Liberation Sans"},
"axisY":{"labelFontSize":10,"titleFontSize":19,"labelPadding":1,"titlePadding":4},
"axisX":{"domainWidth":1.5},
"title":{"fontSize":14,"fontWeight":"bold","frame":"group","offset":9,"color":"#000","font":"Liberation Sans"},
"legend":{"labelFontSize":12,"labelFont":"Liberation Sans","labelOffset":7,"rowPadding":4.5,"symbolSize":45}
}
}
